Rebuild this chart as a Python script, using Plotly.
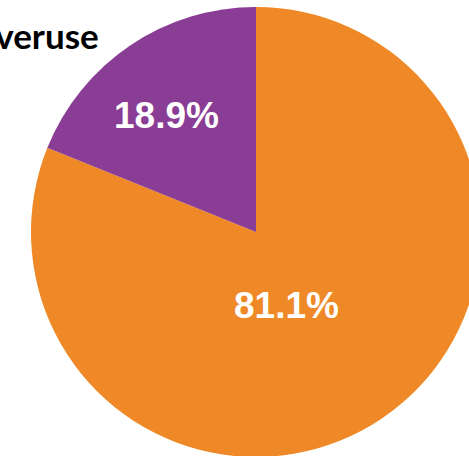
import plotly.graph_objects as go

labels = ["Other", "Overuse"]
values = [81.1, 18.9]
colors = ["#EF8827", "#8A3D94"]
title_text = "Overuse"
# label anchor positions (paper fractions) for the percentage texts
label_pos = [(0.567, 0.336), (0.300, 0.760)]

fig = go.Figure(
    go.Pie(
        labels=labels,
        values=values,
        sort=False,
        direction="clockwise",
        rotation=0,
        marker=dict(colors=colors, line=dict(width=0)),
        textinfo="none",
        showlegend=False,
        hoverinfo="none",
    )
)

for v, (px, py) in zip(values, label_pos):
    fig.add_annotation(
        text="<b>%.1f%%</b>" % v,
        xref="paper", yref="paper",
        x=px, y=py,
        xanchor="center", yanchor="middle",
        showarrow=False,
        font=dict(family="Liberation Sans", size=37, color="white"),
    )

fig.add_annotation(
    text="<b>" + title_text + "</b>",
    xref="paper", yref="paper",
    x=0.155, y=0.938,
    xanchor="right", yanchor="middle",
    showarrow=False,
    font=dict(family="Lato", size=35, color="black"),
)

fig.update_layout(
    width=482, height=458,
    margin=dict(l=31, r=1, t=7, b=1),
    paper_bgcolor="white",
    plot_bgcolor="white",
)

fig.write_html(
    "out.html",
    config={"displayModeBar": False},
    post_script="document.body.style.margin='0';document.body.style.overflow='hidden';",
)
